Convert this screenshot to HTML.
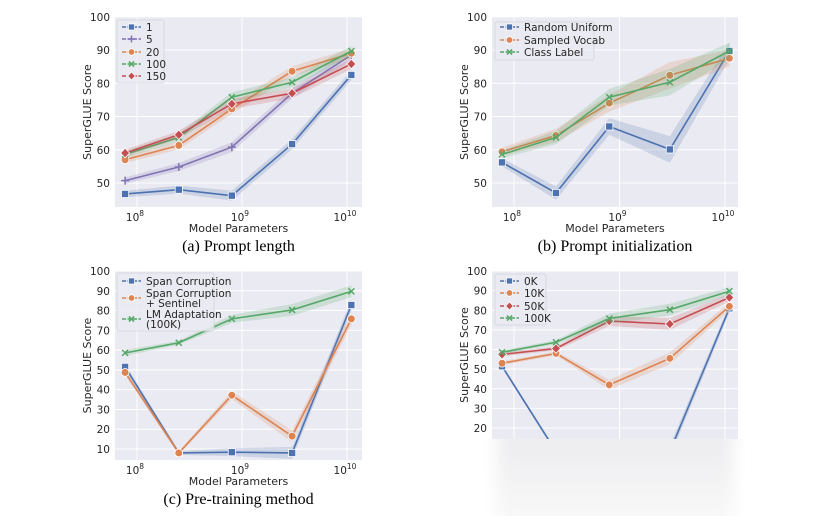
<!DOCTYPE html>
<html><head><meta charset="utf-8"><style>
body{margin:0;background:#fff;width:828px;height:516px;overflow:hidden}
svg{display:block}
text{font-family:"DejaVu Sans","Liberation Sans",sans-serif;fill:#262626}
.cap{font-family:"Liberation Serif",serif;font-size:16px;fill:#000}
</style></head><body>
<svg id="fig" width="828" height="516" viewBox="0 0 828 516" xmlns="http://www.w3.org/2000/svg">
<defs>
<linearGradient id="fade" x1="0" y1="0" x2="0" y2="1"><stop offset="0" stop-color="#ebebee"/><stop offset="0.5" stop-color="#f3f3f4"/><stop offset="1" stop-color="#fbfbfb"/></linearGradient>
<filter id="soft" x="-20%" y="-20%" width="140%" height="140%"><feGaussianBlur stdDeviation="8"/></filter>
<clipPath id="clipd"><rect x="492" y="271" width="246" height="168"/></clipPath>
<clipPath id="clipfade"><rect x="420" y="439" width="408" height="77"/></clipPath>
</defs>
</svg>
<script>
const params=[7.7e7,2.5e8,8e8,3e9,1.1e10];
// panel a
const aNames=["1","5","20","100","150"];
const a1=[46.7,48,46.2,61.7,82.5],a5=[50.7,54.8,60.8,77,88.5],a20=[57,61.3,72.3,83.6,89],a100=[58.6,63.7,75.8,80.3,89.7],a150=[59,64.5,73.8,77,85.8];
const aBand=[1,1.2,1.5,1.5,1.5];
// panel b
const bNames=["Random Uniform","Sampled Vocab","Class Label"];
const bRand=[56.2,47,67,60.1,89.7],bVocab=[59.4,64.3,74,82.4,87.5],bClass=[58.6,63.7,75.8,80.3,89.7];
const bBand=[1.2,2,2.5,4,2.5];
// panel c
const cNames=[["Span Corruption"],["Span Corruption","+ Sentinel"],["LM Adaptation","(100K)"]];
const cSpan=[51.5,8,8.4,8,82.8],cSent=[48.7,8,37.2,16.5,75.8],cLM=[58.6,63.7,75.8,80.3,89.7];
const cBand=[1.5,1,2,3,3];
// panel d
const dNames=["0K","10K","50K","100K"];
const d0=[51.5,8,8.4,8,81],d10=[53,58,42,55.5,82],d50=[57.5,60.5,74.5,73,86.5],d100=[58.6,63.7,75.8,80.3,89.7];
const dBand=[1,1,2.5,3,2];
const yTicksA=[50,60,70,80,90,100],yTicksC=[10,20,30,40,50,60,70,80,90,100],yTicksD=[20,30,40,50,60,70,80,90,100];
const xTickExp=[8,9,10];

const C={blue:"#4c72b0",orange:"#dd8452",green:"#55a868",red:"#c44e52",purple:"#8172b3"};
const NS="http://www.w3.org/2000/svg";
const svg=document.getElementById('fig');
function el(tag,attrs,parent,txt){const e=document.createElementNS(NS,tag);for(const k in attrs)e.setAttribute(k,attrs[k]);if(txt!==undefined)e.textContent=txt;(parent||svg).appendChild(e);return e;}

function marker(g,type,x,y,col,s){
  s=s||1;let m;
  if(type==='sq')m=el('rect',{x:x-3.6*s,y:y-3.6*s,width:7.2*s,height:7.2*s,fill:col,stroke:'#fff','stroke-width':0.8},g);
  else if(type==='ci')m=el('circle',{cx:x,cy:y,r:3.9*s,fill:col,stroke:'#fff','stroke-width':0.8},g);
  else if(type==='di')m=el('polygon',{points:`${x},${y-4.8*s} ${x+4.5*s},${y} ${x},${y+4.8*s} ${x-4.5*s},${y}`,fill:col,stroke:'#fff','stroke-width':0.8},g);
  else if(type==='pl')m=el('path',{d:`M${x-4*s},${y}h${8*s}M${x},${y-4*s}v${8*s}`,stroke:col,'stroke-width':1.5,fill:'none'},g);
  else m=el('path',{d:`M${x-3*s},${y-3*s}l${6*s},${6*s}M${x+3*s},${y-3*s}l${-6*s},${6*s}`,stroke:col,'stroke-width':1.5,fill:'none'},g);
  
  
}

function panel(cfg){
  const g=el('g',{});
  
  
  const {L,R,T,B,x8,dec,yv0,yp0,ppu}=cfg;
  const X=p=>x8+(Math.log10(p)-8)*dec;
  const Y=v=>yp0-(v-yv0)*ppu;
  const plot=el('g',cfg.clip?{'clip-path':cfg.clip}:{},g);
  const bg=el('rect',{x:L,y:T,width:R-L,height:B-T,fill:'#eaeaf2'},plot);
  
  
  cfg.yTicks.forEach(v=>{el('line',{x1:L,x2:R,y1:Y(v),y2:Y(v),stroke:'#fff','stroke-width':1},plot);
    const t=el('text',{x:L-5,y:Y(v)+4,'text-anchor':'end','font-size':10.5},g,v);
    });
  xTickExp.forEach(e=>{const x=X(Math.pow(10,e));el('line',{x1:x,x2:x,y1:T,y2:B,stroke:'#fff','stroke-width':1},plot);
    if(cfg.xlabels){const t=el('text',{x:x-2,y:B+14,'text-anchor':'middle','font-size':10.5},g);
      
      el('tspan',{},t,'10');el('tspan',{dy:-5,'font-size':7.5},t,String(e));}});
  cfg.series.forEach(s=>{
    const sg=el('g',{},plot);
    
    
    const up=s.v.map((v,i)=>`${X(params[i])},${Y(v+cfg.band[i])}`);
    const dn=s.v.map((v,i)=>`${X(params[i])},${Y(v-cfg.band[i])}`).reverse();
    el('polygon',{points:up.concat(dn).join(' '),fill:s.c,opacity:0.2},sg);
    el('polyline',{points:s.v.map((v,i)=>`${X(params[i])},${Y(v)}`).join(' '),fill:'none',stroke:s.c,'stroke-width':1.6},sg);
    s.v.forEach((v,i)=>marker(sg,s.m,X(params[i]),Y(v),s.c));
  });
  if(cfg.fade){const fg=el('g',{'clip-path':'url(#clipfade)'},g);
    const f=el('rect',{x:L+5,y:B-10,width:R-L-10,height:516-B+30,fill:'url(#fade)',filter:'url(#soft)'},fg);
    }
  const yl=el('text',{x:0,y:0,'font-size':11,'text-anchor':'middle',transform:`translate(${L-24},${(T+Math.min(B,cfg.ylabB||B))/2}) rotate(-90)`},g,'SuperGLUE Score');
  
  if(cfg.xlabels){const xl=el('text',{x:(L+R)/2,y:B+25,'font-size':11,'text-anchor':'middle'},g,'Model Parameters');
    }
  const lg=el('g',{},g);
  
  
  const lb=cfg.legend;
  el('rect',{x:lb.x,y:lb.y,width:lb.w,height:lb.h,fill:'#eaeaf2',stroke:'#d0d0d8','stroke-width':0.8,rx:2,opacity:0.85},lg);
  cfg.series.forEach((s,i)=>{
    const e=el('g',{},lg);
    
    
    const yy=lb.ys[i];
    el('line',{x1:lb.x+5,x2:lb.x+24,y1:yy,y2:yy,stroke:s.c,'stroke-width':1.6,'stroke-dasharray':'4,1.5'},e);
    marker(e,s.m,lb.x+14.5,yy,s.c,0.85);
    const lines=Array.isArray(s.label)?s.label:[s.label];
    const off=(lines.length-1)*5;
    lines.forEach((ln,j)=>el('text',{x:lb.x+29,y:yy+4-off+j*10,'font-size':10.5},e,ln));
  });
  if(cfg.cap){const t=el('text',{x:(L+R)/2,y:cfg.capY,'text-anchor':'middle',class:'cap'},g,cfg.cap);
    }
}

panel({name:'panel-a-prompt-length',L:115,R:362,T:17,B:207,x8:137,dec:105,yv0:90,yp0:50,ppu:3.325,yTicks:yTicksA,xlabels:true,band:aBand,
 series:[{key:'1',label:aNames[0],v:a1,c:C.blue,m:'sq'},{key:'5',label:aNames[1],v:a5,c:C.purple,m:'pl'},{key:'20',label:aNames[2],v:a20,c:C.orange,m:'ci'},{key:'100',label:aNames[3],v:a100,c:C.green,m:'x'},{key:'150',label:aNames[4],v:a150,c:C.red,m:'di'}],
 legend:{x:117,y:20,w:47,h:63,ys:[27,39,52,64,76]},cap:'(a) Prompt length',capY:251});
panel({name:'panel-b-prompt-init',L:492,R:738,T:17,B:207,x8:514,dec:105.5,yv0:90,yp0:50,ppu:3.325,yTicks:yTicksA,xlabels:true,band:bBand,
 series:[{key:'random',label:bNames[0],v:bRand,c:C.blue,m:'sq'},{key:'vocab',label:bNames[1],v:bVocab,c:C.orange,m:'ci'},{key:'class',label:bNames[2],v:bClass,c:C.green,m:'x'}],
 legend:{x:495,y:22,w:99,h:38,ys:[27,40,52]},cap:'(b) Prompt initialization',capY:251});
panel({name:'panel-c-pretraining',L:115,R:362,T:271,B:460,x8:137,dec:105,yv0:10,yp0:449,ppu:1.978,yTicks:yTicksC,xlabels:true,band:cBand,
 series:[{key:'span',label:cNames[0],v:cSpan,c:C.blue,m:'sq'},{key:'sentinel',label:cNames[1],v:cSent,c:C.orange,m:'ci'},{key:'lm',label:cNames[2],v:cLM,c:C.green,m:'x'}],
 legend:{x:117,y:273,w:97,h:58,ys:[281,298,319]},cap:'(c) Pre-training method',capY:504});
panel({name:'panel-d-lm-adaptation',L:492,R:738,T:271,B:439,x8:514,dec:105.5,yv0:20,yp0:428,ppu:1.9625,yTicks:yTicksD,xlabels:false,band:dBand,clip:'url(#clipd)',fade:true,ylabB:460,
 series:[{key:'0k',label:dNames[0],v:d0,c:C.blue,m:'sq'},{key:'10k',label:dNames[1],v:d10,c:C.orange,m:'ci'},{key:'50k',label:dNames[2],v:d50,c:C.red,m:'di'},{key:'100k',label:dNames[3],v:d100,c:C.green,m:'x'}],
 legend:{x:495,y:274,w:51,h:51,ys:[281,293,306,318]}});
</script>
</body></html>
